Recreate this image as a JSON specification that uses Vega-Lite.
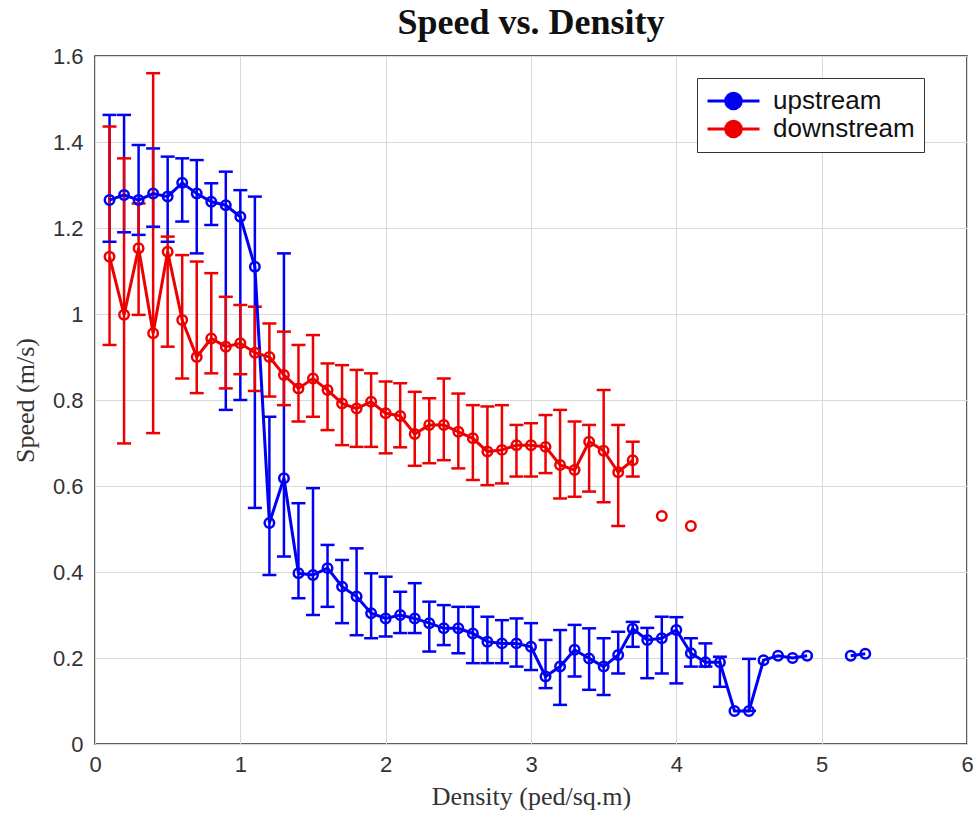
{
  "$schema": "https://vega.github.io/schema/vega-lite/v6.json",
  "width": 872,
  "height": 688,
  "autosize": {"type": "none"},
  "padding": {"left": 95, "top": 56, "right": 9, "bottom": 82},
  "background": "white",
  "config": {
    "view": {"stroke": "#2a2a2a", "strokeWidth": 1.5},
    "axis": {
      "grid": true,
      "gridColor": "#d9d9d9",
      "gridWidth": 1,
      "domain": false,
      "ticks": false,
      "labelFont": "Liberation Sans",
      "labelFontSize": 22,
      "labelColor": "#333333",
      "titleFont": "Liberation Serif",
      "titleFontSize": 26,
      "titleFontWeight": "normal",
      "titleColor": "#333333"
    }
  },
  "title": {
    "text": "Speed vs. Density",
    "font": "Liberation Serif",
    "fontSize": 36,
    "fontWeight": "bold",
    "color": "#111111",
    "anchor": "middle",
    "offset": 3
  },
  "data": {
    "values": [
      {"series": "upstream", "seg": "u1", "d": 0.1, "v": 1.265, "lo": 1.168, "hi": 1.463},
      {"series": "upstream", "seg": "u1", "d": 0.2, "v": 1.277, "lo": 1.19, "hi": 1.463},
      {"series": "upstream", "seg": "u1", "d": 0.3, "v": 1.265, "lo": 1.184, "hi": 1.393},
      {"series": "upstream", "seg": "u1", "d": 0.4, "v": 1.28, "lo": 1.203, "hi": 1.385},
      {"series": "upstream", "seg": "u1", "d": 0.5, "v": 1.273, "lo": 1.168, "hi": 1.366},
      {"series": "upstream", "seg": "u1", "d": 0.6, "v": 1.305, "lo": 1.215, "hi": 1.362},
      {"series": "upstream", "seg": "u1", "d": 0.7, "v": 1.28, "lo": 1.141, "hi": 1.358},
      {"series": "upstream", "seg": "u1", "d": 0.8, "v": 1.261, "lo": 1.207, "hi": 1.304},
      {"series": "upstream", "seg": "u1", "d": 0.9, "v": 1.253, "lo": 0.777, "hi": 1.331},
      {"series": "upstream", "seg": "u1", "d": 1.0, "v": 1.226, "lo": 0.8, "hi": 1.288},
      {"series": "upstream", "seg": "u1", "d": 1.1, "v": 1.11, "lo": 0.549, "hi": 1.273},
      {"series": "upstream", "seg": "u1", "d": 1.2, "v": 0.514, "lo": 0.393, "hi": 0.761},
      {"series": "upstream", "seg": "u1", "d": 1.3, "v": 0.618, "lo": 0.436, "hi": 1.141},
      {"series": "upstream", "seg": "u1", "d": 1.4, "v": 0.397, "lo": 0.339, "hi": 0.56},
      {"series": "upstream", "seg": "u1", "d": 1.5, "v": 0.393, "lo": 0.3, "hi": 0.595},
      {"series": "upstream", "seg": "u1", "d": 1.6, "v": 0.409, "lo": 0.319, "hi": 0.463},
      {"series": "upstream", "seg": "u1", "d": 1.7, "v": 0.366, "lo": 0.281, "hi": 0.428},
      {"series": "upstream", "seg": "u1", "d": 1.8, "v": 0.343, "lo": 0.253, "hi": 0.455},
      {"series": "upstream", "seg": "u1", "d": 1.9, "v": 0.304, "lo": 0.246, "hi": 0.397},
      {"series": "upstream", "seg": "u1", "d": 2.0, "v": 0.292, "lo": 0.25, "hi": 0.389},
      {"series": "upstream", "seg": "u1", "d": 2.1, "v": 0.3, "lo": 0.258, "hi": 0.354},
      {"series": "upstream", "seg": "u1", "d": 2.2, "v": 0.292, "lo": 0.258, "hi": 0.374},
      {"series": "upstream", "seg": "u1", "d": 2.3, "v": 0.281, "lo": 0.215, "hi": 0.331},
      {"series": "upstream", "seg": "u1", "d": 2.4, "v": 0.269, "lo": 0.23, "hi": 0.323},
      {"series": "upstream", "seg": "u1", "d": 2.5, "v": 0.269, "lo": 0.211, "hi": 0.319},
      {"series": "upstream", "seg": "u1", "d": 2.6, "v": 0.257, "lo": 0.188, "hi": 0.319},
      {"series": "upstream", "seg": "u1", "d": 2.7, "v": 0.238, "lo": 0.188, "hi": 0.296},
      {"series": "upstream", "seg": "u1", "d": 2.8, "v": 0.234, "lo": 0.188, "hi": 0.288},
      {"series": "upstream", "seg": "u1", "d": 2.9, "v": 0.234, "lo": 0.18, "hi": 0.292},
      {"series": "upstream", "seg": "u1", "d": 3.0, "v": 0.226, "lo": 0.172, "hi": 0.281},
      {"series": "upstream", "seg": "u1", "d": 3.1, "v": 0.157, "lo": 0.13, "hi": 0.242},
      {"series": "upstream", "seg": "u1", "d": 3.2, "v": 0.18, "lo": 0.091, "hi": 0.265},
      {"series": "upstream", "seg": "u1", "d": 3.3, "v": 0.219, "lo": 0.157, "hi": 0.277},
      {"series": "upstream", "seg": "u1", "d": 3.4, "v": 0.199, "lo": 0.126, "hi": 0.269},
      {"series": "upstream", "seg": "u1", "d": 3.5, "v": 0.18, "lo": 0.114, "hi": 0.246},
      {"series": "upstream", "seg": "u1", "d": 3.6, "v": 0.207, "lo": 0.164, "hi": 0.261},
      {"series": "upstream", "seg": "u1", "d": 3.7, "v": 0.268, "lo": 0.226, "hi": 0.284},
      {"series": "upstream", "seg": "u1", "d": 3.8, "v": 0.242, "lo": 0.153, "hi": 0.27},
      {"series": "upstream", "seg": "u1", "d": 3.9, "v": 0.246, "lo": 0.164, "hi": 0.296},
      {"series": "upstream", "seg": "u1", "d": 4.0, "v": 0.265, "lo": 0.141, "hi": 0.295},
      {"series": "upstream", "seg": "u1", "d": 4.1, "v": 0.211, "lo": 0.18, "hi": 0.246},
      {"series": "upstream", "seg": "u1", "d": 4.2, "v": 0.19, "lo": 0.18, "hi": 0.234},
      {"series": "upstream", "seg": "u1", "d": 4.3, "v": 0.19, "lo": 0.133, "hi": 0.203},
      {"series": "upstream", "seg": "u1", "d": 4.4, "v": 0.077, "lo": null, "hi": null},
      {"series": "upstream", "seg": "u1", "d": 4.5, "v": 0.077, "lo": 0.077, "hi": 0.198},
      {"series": "upstream", "seg": "u1", "d": 4.6, "v": 0.195, "lo": null, "hi": null},
      {"series": "upstream", "seg": "u1", "d": 4.7, "v": 0.205, "lo": null, "hi": null},
      {"series": "upstream", "seg": "u1", "d": 4.8, "v": 0.2, "lo": null, "hi": null},
      {"series": "upstream", "seg": "u1", "d": 4.9, "v": 0.205, "lo": null, "hi": null},
      {"series": "upstream", "seg": "u2", "d": 5.2, "v": 0.205, "lo": null, "hi": null},
      {"series": "upstream", "seg": "u2", "d": 5.3, "v": 0.21, "lo": null, "hi": null},
      {"series": "downstream", "seg": "d1", "d": 0.1, "v": 1.133, "lo": 0.928, "hi": 1.436},
      {"series": "downstream", "seg": "d1", "d": 0.2, "v": 0.998, "lo": 0.699, "hi": 1.362},
      {"series": "downstream", "seg": "d1", "d": 0.3, "v": 1.153, "lo": 0.998, "hi": 1.257},
      {"series": "downstream", "seg": "d1", "d": 0.4, "v": 0.955, "lo": 0.723, "hi": 1.56},
      {"series": "downstream", "seg": "d1", "d": 0.5, "v": 1.145, "lo": 0.924, "hi": 1.18},
      {"series": "downstream", "seg": "d1", "d": 0.6, "v": 0.986, "lo": 0.85, "hi": 1.137},
      {"series": "downstream", "seg": "d1", "d": 0.7, "v": 0.9, "lo": 0.816, "hi": 1.122},
      {"series": "downstream", "seg": "d1", "d": 0.8, "v": 0.943, "lo": 0.862, "hi": 1.095},
      {"series": "downstream", "seg": "d1", "d": 0.9, "v": 0.924, "lo": 0.827, "hi": 1.04},
      {"series": "downstream", "seg": "d1", "d": 1.0, "v": 0.932, "lo": 0.86, "hi": 1.021},
      {"series": "downstream", "seg": "d1", "d": 1.1, "v": 0.91, "lo": 0.821, "hi": 1.017},
      {"series": "downstream", "seg": "d1", "d": 1.2, "v": 0.9, "lo": 0.808, "hi": 0.978},
      {"series": "downstream", "seg": "d1", "d": 1.3, "v": 0.858, "lo": 0.788, "hi": 0.959},
      {"series": "downstream", "seg": "d1", "d": 1.4, "v": 0.827, "lo": 0.75, "hi": 0.928},
      {"series": "downstream", "seg": "d1", "d": 1.5, "v": 0.85, "lo": 0.761, "hi": 0.951},
      {"series": "downstream", "seg": "d1", "d": 1.6, "v": 0.823, "lo": 0.73, "hi": 0.885},
      {"series": "downstream", "seg": "d1", "d": 1.7, "v": 0.792, "lo": 0.695, "hi": 0.881},
      {"series": "downstream", "seg": "d1", "d": 1.8, "v": 0.78, "lo": 0.691, "hi": 0.87},
      {"series": "downstream", "seg": "d1", "d": 1.9, "v": 0.796, "lo": 0.691, "hi": 0.862},
      {"series": "downstream", "seg": "d1", "d": 2.0, "v": 0.769, "lo": 0.676, "hi": 0.843},
      {"series": "downstream", "seg": "d1", "d": 2.1, "v": 0.763, "lo": 0.69, "hi": 0.839},
      {"series": "downstream", "seg": "d1", "d": 2.2, "v": 0.721, "lo": 0.647, "hi": 0.819},
      {"series": "downstream", "seg": "d1", "d": 2.3, "v": 0.742, "lo": 0.653, "hi": 0.804},
      {"series": "downstream", "seg": "d1", "d": 2.4, "v": 0.742, "lo": 0.66, "hi": 0.85},
      {"series": "downstream", "seg": "d1", "d": 2.5, "v": 0.726, "lo": 0.641, "hi": 0.815},
      {"series": "downstream", "seg": "d1", "d": 2.6, "v": 0.711, "lo": 0.614, "hi": 0.788},
      {"series": "downstream", "seg": "d1", "d": 2.7, "v": 0.68, "lo": 0.602, "hi": 0.785},
      {"series": "downstream", "seg": "d1", "d": 2.8, "v": 0.684, "lo": 0.606, "hi": 0.788},
      {"series": "downstream", "seg": "d1", "d": 2.9, "v": 0.695, "lo": 0.622, "hi": 0.742},
      {"series": "downstream", "seg": "d1", "d": 3.0, "v": 0.695, "lo": 0.622, "hi": 0.746},
      {"series": "downstream", "seg": "d1", "d": 3.1, "v": 0.691, "lo": 0.63, "hi": 0.765},
      {"series": "downstream", "seg": "d1", "d": 3.2, "v": 0.649, "lo": 0.571, "hi": 0.777},
      {"series": "downstream", "seg": "d1", "d": 3.3, "v": 0.637, "lo": 0.575, "hi": 0.75},
      {"series": "downstream", "seg": "d1", "d": 3.4, "v": 0.703, "lo": 0.587, "hi": 0.742},
      {"series": "downstream", "seg": "d1", "d": 3.5, "v": 0.682, "lo": 0.562, "hi": 0.823},
      {"series": "downstream", "seg": "d1", "d": 3.6, "v": 0.632, "lo": 0.507, "hi": 0.742},
      {"series": "downstream", "seg": "d1", "d": 3.7, "v": 0.66, "lo": 0.622, "hi": 0.703},
      {"series": "downstream", "seg": "d2", "d": 3.9, "v": 0.53, "lo": null, "hi": null},
      {"series": "downstream", "seg": "d3", "d": 4.1, "v": 0.507, "lo": null, "hi": null}
    ]
  },
  "encoding": {
    "x": {
      "field": "d",
      "type": "quantitative",
      "scale": {"domain": [0, 6], "nice": false, "zero": false},
      "axis": {"values": [0, 1, 2, 3, 4, 5, 6], "title": "Density (ped/sq.m)", "labelPadding": 10, "titlePadding": 8, "labelFlush": false}
    }
  },
  "layer": [
    {
      "mark": {"type": "rule", "strokeWidth": 2.5, "opacity": 1},
      "encoding": {
        "y": {"field": "lo", "type": "quantitative"},
        "y2": {"field": "hi"},
        "stroke": {"field": "series", "type": "nominal"}
      }
    },
    {
      "mark": {"type": "tick", "orient": "horizontal", "size": 14, "thickness": 2.5, "opacity": 1},
      "encoding": {
        "y": {"field": "lo", "type": "quantitative"},
        "color": {"field": "series", "type": "nominal", "scale": {"domain": ["upstream", "downstream"], "range": ["#0000f5", "#ee0000"]}, "legend": null}
      }
    },
    {
      "mark": {"type": "tick", "orient": "horizontal", "size": 14, "thickness": 2.5, "opacity": 1},
      "encoding": {
        "y": {"field": "hi", "type": "quantitative"},
        "color": {"field": "series", "type": "nominal", "legend": null}
      }
    },
    {
      "mark": {"type": "line", "strokeWidth": 3},
      "encoding": {
        "y": {"field": "v", "type": "quantitative"},
        "detail": {"field": "seg", "type": "nominal"},
        "stroke": {"field": "series", "type": "nominal"}
      }
    },
    {
      "mark": {"type": "point", "filled": false, "strokeWidth": 2.5, "size": 90, "opacity": 1},
      "encoding": {
        "y": {
          "field": "v",
          "type": "quantitative",
          "scale": {"domain": [0, 1.6], "nice": false},
          "axis": {"values": [0, 0.2, 0.4, 0.6, 0.8, 1, 1.2, 1.4, 1.6], "format": "~g", "title": "Speed (m/s)", "labelPadding": 12, "titlePadding": 14}
        },
        "stroke": {
          "field": "series",
          "type": "nominal",
          "scale": {"domain": ["upstream", "downstream"], "range": ["#0000f5", "#ee0000"]},
          "legend": {
            "title": null,
            "orient": "none",
            "legendX": 602,
            "legendY": 22,
            "direction": "vertical",
            "strokeColor": "#333333",
            "fillColor": "white",
            "padding": 9,
            "symbolType": "M -1 0 L 1 0 M 0.3 0 A 0.3 0.3 0 1 1 -0.3 0 A 0.3 0.3 0 1 1 0.3 0",
            "symbolSize": 2704,
            "symbolStrokeWidth": 3,
            "symbolOpacity": 1,
            "symbolFillColor": "white",
            "clipHeight": 28,
            "labelFont": "Liberation Sans",
            "labelFontSize": 26,
            "labelColor": "#111111",
            "labelOffset": 12,
            "rowPadding": 0,
            "encode": {
              "symbols": {
                "enter": {"fill": {"value": "white"}},
                "update": {"fill": {"value": "white"}, "fillOpacity": {"value": 1}, "opacity": {"value": 1}}
              }
            }
          }
        }
      }
    }
  ],
  "resolve": {"scale": {"y": "shared"}}
}
